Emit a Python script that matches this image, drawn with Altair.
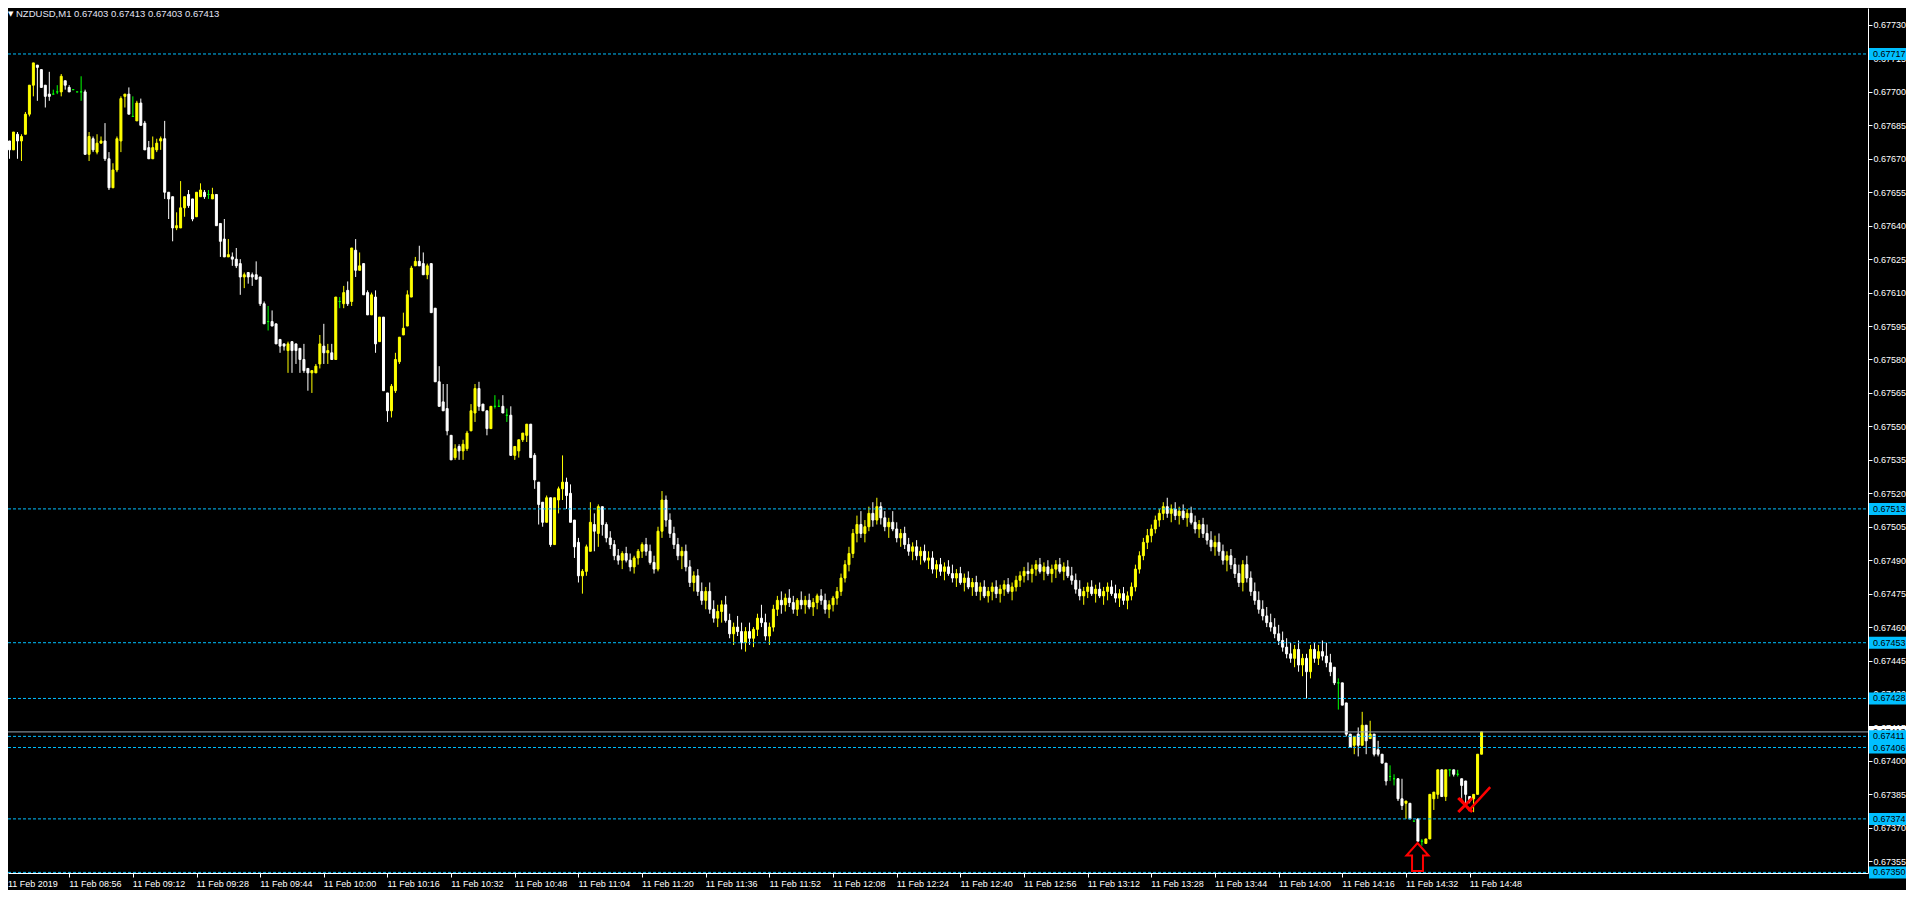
import altair as alt
import pandas as pd

# ---------------- data (prices in points above 0.67000, 1 point = 0.00001) ----------------
BASE = 0.67
SYMBOL = "NZDUSD,M1"

O = [679,678,674,681,678,681,690,703,712,710,
     703,699,699,700,700,705,702,701,700,700,
     700,672,679,673,677,678,670,657,665,678,
     698,699,689,687,695,686,675,670,674,678,
     679,655,653,639,639,648,654,652,644,653,
     655,654,652,654,641,634,626,626,625,623,
     617,619,618,618,617,605,597,597,596,589,
     587,584,588,587,585,580,576,574,574,578,
     586,583,583,580,606,605,611,606,629,620,
     623,610,600,608,588,599,565,557,566,579,
     591,595,608,622,624,623,618,623,603,570,
     561,558,546,536,541,539,540,548,556,567,
     560,557,549,559,559,559,555,555,537,539,
     544,546,551,537,525,516,507,518,497,517,
     522,525,520,508,498,483,485,494,506,502,514,
     506,500,497,492,490,493,490,487,491,494,
     497,494,489,486,503,517,508,502,497,492,
     494,487,480,483,476,472,476,468,464,467,
     470,463,457,460,458,453,458,455,459,464,
     462,456,460,468,472,470,473,471,468,472,
     470,472,469,471,474,472,468,470,473,476,
     482,488,493,502,506,502,505,511,508,514,
     509,505,507,504,500,502,497,494,496,492,
     494,490,491,486,488,485,487,484,482,484,
     480,482,478,480,476,478,474,476,478,475,
     477,479,476,478,481,483,485,484,486,488,
     485,487,484,486,488,485,487,483,481,477,
     474,476,478,475,477,474,476,478,475,473,
     475,472,474,478,486,492,498,501,504,508,
     511,514,511,513,510,512,509,511,507,504,
     506,502,499,496,498,494,490,492,488,484,
     480,488,482,476,472,468,465,462,460,457,
     454,451,448,446,450,443,
     446,440,450,446,449,447,444,442,435,435,
     426,412,407,412,407,416,410,412,405,403,
     399,393,392,392,383,381,381,373,374,364,
     363,365,383,385,396,384,396,396,394,392,
     391,384,383,385,403]

H = [682,678,682,682,681,691,703,713,712,710,
     703,709,701,703,708,705,703,701,700,707,
     701,682,680,681,680,686,673,668,680,698,
     699,702,698,696,697,687,678,680,679,680,
     687,655,653,646,660,653,656,652,655,659,
     656,656,657,654,641,643,634,628,630,625,
     619,619,619,624,617,606,604,602,596,589,
     587,588,588,587,585,587,576,575,578,591,
     596,587,587,608,608,613,615,630,634,628,
     623,611,610,611,599,599,565,569,583,590,
     601,611,622,626,631,628,623,623,603,577,
     569,569,546,542,542,544,548,560,569,570,
     560,557,559,564,562,564,558,559,541,544,
     547,551,551,538,525,516,519,518,518,523,
     537,527,524,508,500,486,497,516,511,515,514,
     507,503,499,495,494,496,493,492,495,498,
     500,497,492,505,521,519,511,505,500,496,
     497,490,485,486,480,478,480,472,470,472,
     474,466,462,465,462,460,462,460,466,470,
     466,462,470,474,476,475,477,474,473,476,
     474,475,473,475,477,475,472,474,478,484,
     490,496,504,510,512,508,514,516,518,516,
     512,509,512,507,504,505,500,498,499,496,
     497,494,494,490,491,489,490,488,486,487,
     484,485,482,483,480,481,478,480,481,479,
     481,482,480,483,485,487,489,488,490,491,
     489,490,488,490,491,489,490,487,484,481,
     478,480,481,479,480,478,480,481,479,477,
     478,476,480,488,494,500,504,506,510,513,
     516,518,515,516,514,515,513,514,510,508,
     509,506,503,501,502,497,494,495,491,488,
     490,492,485,480,476,472,469,466,464,461,
     458,455,453,452,454,448,
     448,452,453,452,454,453,448,442,437,435,
     426,412,411,415,422,416,418,412,409,403,
     399,398,394,392,392,382,381,373,374,365,
     365,385,386,396,396,396,396,396,396,392,
     391,384,385,403,413]

L = [674,670,674,670,669,681,689,698,696,702,
     693,696,699,699,698,701,700,701,700,696,
     672,669,673,672,677,669,656,657,664,673,
     693,690,689,687,685,674,670,670,673,674,
     652,643,633,638,639,644,648,642,644,653,
     652,652,652,640,626,626,626,622,621,609,
     612,614,613,616,604,596,593,595,587,583,
     584,574,574,578,574,574,566,565,574,576,
     578,578,580,580,603,603,604,604,617,620,
     609,600,600,583,588,566,552,554,565,578,
     591,595,608,622,622,618,616,601,570,559,
     557,546,535,535,535,535,539,548,552,557,
     557,546,549,558,559,556,552,537,535,536,
     543,543,536,522,506,505,507,496,497,511,
     517,513,507,491,480,475,483,494,494,496,501,
     498,495,490,488,486,489,485,484,488,491,
     492,488,484,485,500,505,500,495,490,486,
     485,478,476,474,470,468,466,462,460,462,
     462,455,452,456,450,449,452,451,456,460,
     454,452,458,465,466,467,469,466,465,468,
     466,468,465,468,470,466,464,467,470,474,
     480,485,491,498,500,498,503,505,506,506,
     503,500,503,498,496,495,492,490,490,488,
     489,486,484,482,483,481,483,480,478,479,
     476,477,474,474,472,473,471,472,473,471,
     474,475,472,476,478,480,481,480,483,484,
     481,483,480,482,484,481,482,479,475,472,
     470,473,474,471,473,470,472,474,471,469,
     470,468,472,476,484,490,495,498,502,505,
     508,509,507,508,506,508,505,506,502,500,
     500,497,494,492,492,488,485,486,482,478,
     476,480,474,470,466,463,460,458,455,452,
     449,446,444,442,440,438,
     428,437,444,443,445,442,438,434,423,425,
     411,406,403,402,407,403,410,402,402,399,
     389,391,389,382,378,374,374,373,364,362,
     363,365,378,383,384,382,393,393,393,383,
     381,381,377,385,403]

C = [679,674,682,678,680,690,703,713,711,702,
     698,698,699,700,707,703,700,701,700,700,
     672,680,674,677,678,670,657,665,679,697,
     699,690,689,695,685,674,670,675,677,679,
     655,652,639,640,648,653,649,643,655,656,
     653,654,654,640,633,626,627,625,622,617,
     618,617,617,616,605,596,597,595,587,586,
     586,587,584,584,580,575,574,575,577,587,
     583,584,580,608,606,610,605,630,620,622,
     609,600,609,587,599,566,557,568,580,590,
     594,609,621,624,622,618,622,601,570,559,
     557,548,535,540,539,542,547,557,567,559,
     557,549,559,559,559,556,555,537,541,544,
     547,551,536,526,515,507,518,497,518,522,
     525,519,507,496,483,485,496,507,503,514,506,
     500,497,492,490,493,490,487,491,494,497,
     494,489,486,503,517,508,502,497,492,494,
     487,480,483,476,472,476,468,464,467,470,
     463,457,460,458,453,458,455,459,464,462,
     456,460,468,472,470,473,471,468,472,470,
     472,469,471,474,472,468,470,473,476,482,
     488,493,502,506,502,505,511,508,514,509,
     505,507,504,500,502,497,494,496,492,494,
     490,491,486,488,485,487,484,482,484,480,
     482,478,480,476,478,474,476,478,475,477,
     479,476,478,481,483,485,484,486,488,485,
     487,484,486,488,485,487,483,481,477,474,
     476,478,475,477,474,476,478,475,473,475,
     472,474,478,486,492,498,501,504,508,511,
     514,511,513,510,512,509,511,507,504,506,
     502,499,496,498,494,490,492,488,484,480,
     488,482,476,472,468,465,462,460,457,454,
     451,448,446,450,443,446,
     440,450,446,449,447,444,440,435,435,425,
     412,406,411,407,416,409,412,403,403,399,
     391,393,392,383,380,382,374,373,364,364,
     365,385,386,396,384,396,396,394,394,389,
     385,382,385,403,413]

# right price axis ticks
y_ticks = [67355, 67370, 67385, 67400, 67415, 67430, 67445, 67460, 67475, 67490,
           67505, 67520, 67535, 67550, 67565, 67580, 67595, 67610, 67625, 67640,
           67655, 67670, 67685, 67700, 67715, 67730]

# horizontal (dashed) levels with their price labels
levels = [67717, 67513, 67453, 67428, 67411, 67406, 67374, 67350]
bid_level = 67413

# time axis: bar index of each tick and its label
tick_k = [0, 16, 32, 48, 64, 80, 96, 112, 128, 144, 160, 176, 192, 208,
          224, 240, 256, 272, 288, 304, 320, 336, 352, 368]
tick_labels = ["11 Feb 2019", "11 Feb 08:56", "11 Feb 09:12", "11 Feb 09:28", "11 Feb 09:44",
               "11 Feb 10:00", "11 Feb 10:16", "11 Feb 10:32", "11 Feb 10:48", "11 Feb 11:04",
               "11 Feb 11:20", "11 Feb 11:36", "11 Feb 11:52", "11 Feb 12:08", "11 Feb 12:24",
               "11 Feb 12:40", "11 Feb 12:56", "11 Feb 13:12", "11 Feb 13:28", "11 Feb 13:44",
               "11 Feb 14:00", "11 Feb 14:16", "11 Feb 14:32", "11 Feb 14:48"]

# annotations (bar index, price in points)
arrow_pos = (354.9, 356.9)
cross_pos = (366.9, 380.2)
check_pos = (369.4, 383.1)

# ---------------- build ----------------
def px(v):
    return round(BASE + v / 1e5, 6)

n = len(O)
df = pd.DataFrame({
    "k": list(range(n)),
    "o": [px(v) for v in O],
    "h": [px(v) for v in H],
    "l": [px(v) for v in L],
    "c": [px(v) for v in C],
    "dir": ["up" if c > o else ("down" if c < o else "doji") for o, c in zip(O, C)],
})

W, HT = 1860, 865
FONT = "Liberation Sans"
FS = 9
CYAN = "#00BFFF"

xs = alt.Scale(domain=[1.875, 466.875], nice=False, zero=False)
ys = alt.Scale(domain=[0.6734973, 0.6773762], nice=False, zero=False)

xaxis = alt.Axis(orient="bottom", values=tick_k, labels=False, tickColor="white", tickSize=4,
                 tickWidth=1, domainColor="white", domainWidth=1, grid=False, title=None)
yaxis = alt.Axis(orient="right", values=[px(v - 67000) for v in y_ticks], format=".5f",
                 labelColor="white", labelFont=FONT, labelFontSize=FS, labelAlign="left",
                 labelBaseline="middle", labelPadding=1, labelOverlap=False, labelFlush=False,
                 labelBound=False,
                 tickColor="white", tickSize=4, tickWidth=1, domainColor="white", domainWidth=1,
                 grid=False, title=None)


def X(field):
    return alt.X(field, type="quantitative", scale=xs, axis=xaxis)


def Y(field):
    return alt.Y(field, type="quantitative", scale=ys, axis=yaxis)


cscale = alt.Scale(domain=["up", "down", "doji"], range=["#FFFF00", "#FFFFFF", "#00FF00"])

base = alt.Chart(df)
wicks = base.mark_rule(strokeWidth=1).encode(
    x=X("k"), y=Y("l"), y2="h:Q",
    color=alt.Color("dir:N", scale=cscale, legend=None),
)
bodies = base.mark_bar(size=2, strokeWidth=1).encode(
    x=X("k"), y=Y("o"), y2="c:Q",
    color=alt.Color("dir:N", scale=cscale, legend=None),
    stroke=alt.Stroke("dir:N", scale=cscale, legend=None),
)

lv = pd.DataFrame({"p": [px(v - 67000) for v in levels],
                   "lab": ["%.5f" % px(v - 67000) for v in levels]})
bid = pd.DataFrame({"p": [px(bid_level - 67000)], "lab": ["%.5f" % px(bid_level - 67000)]})

level_lines = alt.Chart(lv).mark_rule(color=CYAN, strokeWidth=1, strokeDash=[3, 2]).encode(
    y=Y("p"), x=alt.value(0), x2=alt.value(W))
bid_line = alt.Chart(bid).mark_rule(color="#9AA6B2", strokeWidth=1).encode(
    y=Y("p"), x=alt.value(0), x2=alt.value(W))

bid_box = alt.Chart(bid).mark_tick(orient="horizontal", size=41, thickness=12, color="white", opacity=1).encode(
    y=Y("p"), x=alt.value(W + 21.5))
bid_txt = alt.Chart(bid).mark_text(align="left", baseline="middle", color="black", font=FONT, fontSize=FS).encode(
    y=Y("p"), x=alt.value(W + 5), text="lab:N")
lv_box = alt.Chart(lv).mark_tick(orient="horizontal", size=41, thickness=12, color=CYAN, opacity=1).encode(
    y=Y("p"), x=alt.value(W + 21.5))
lv_txt = alt.Chart(lv).mark_text(align="left", baseline="middle", color="black", font=FONT, fontSize=FS).encode(
    y=Y("p"), x=alt.value(W + 5), text="lab:N")

tl = pd.DataFrame({"k": tick_k[1:], "lab": tick_labels[1:]})
time_txt = alt.Chart(tl).mark_text(align="left", baseline="middle", color="white", font=FONT, fontSize=FS).encode(
    x=X("k"), y=alt.value(HT + 11), text="lab:N")
first_txt = alt.Chart(pd.DataFrame({"lab": tick_labels[:1]})).mark_text(
    align="left", baseline="middle", color="white", font=FONT, fontSize=FS).encode(
    x=alt.value(0), y=alt.value(HT + 11), text="lab:N")

header = "%s  %.5f %.5f %.5f %.5f" % (SYMBOL, px(O[-1]), px(H[-1]), px(L[-1]), px(C[-1]))
hdr = alt.Chart(pd.DataFrame({"t": [header]})).mark_text(
    align="left", baseline="middle", color="#E4E4F4", font=FONT, fontSize=9.5).encode(
    x=alt.value(8), y=alt.value(6), text="t:N")
tri = alt.Chart(pd.DataFrame({"t": ["\u25BC"]})).mark_text(
    align="left", baseline="middle", color="white", font="DejaVu Sans", fontSize=7).encode(
    x=alt.value(0), y=alt.value(6), text="t:N")

ARROW = "M0,-1L0.79,-0.1L0.39,-0.1L0.39,1L-0.39,1L-0.39,-0.1L-0.79,-0.1Z"
CROSS = "M-1,-1L1,1M1,-1L-1,1"
CHECK = "M-1,-0.03L-0.4,0.77L1,-0.77"
ann = pd.DataFrame({"k": [arrow_pos[0]], "p": [px(arrow_pos[1])]})
arrow = alt.Chart(ann).mark_point(shape=ARROW, size=784, filled=False, color="#FF0000", strokeWidth=2, opacity=1).encode(
    x=X("k"), y=Y("p"))
ann2 = pd.DataFrame({"k": [cross_pos[0]], "p": [px(cross_pos[1])]})
cross = alt.Chart(ann2).mark_point(shape=CROSS, size=196, filled=False, color="#FF0000", strokeWidth=3, opacity=1).encode(
    x=X("k"), y=Y("p"))
ann3 = pd.DataFrame({"k": [check_pos[0]], "p": [px(check_pos[1])]})
check = alt.Chart(ann3).mark_point(shape=CHECK, size=900, filled=False, color="#FF0000", strokeWidth=2.5, opacity=1).encode(
    x=X("k"), y=Y("p"))

chart = alt.layer(
    wicks, bodies, level_lines, bid_line, arrow, cross, check,
    bid_box, bid_txt, lv_box, lv_txt, time_txt, first_txt, hdr, tri
).properties(
    width=W, height=HT,
    padding={"left": 0, "top": 0, "right": 38, "bottom": 17},
    autosize=alt.AutoSizeParams(type="none"),
    background="black",
).configure_view(stroke=None)

chart.save("out.html", embed_options={"renderer": "svg", "actions": False})
